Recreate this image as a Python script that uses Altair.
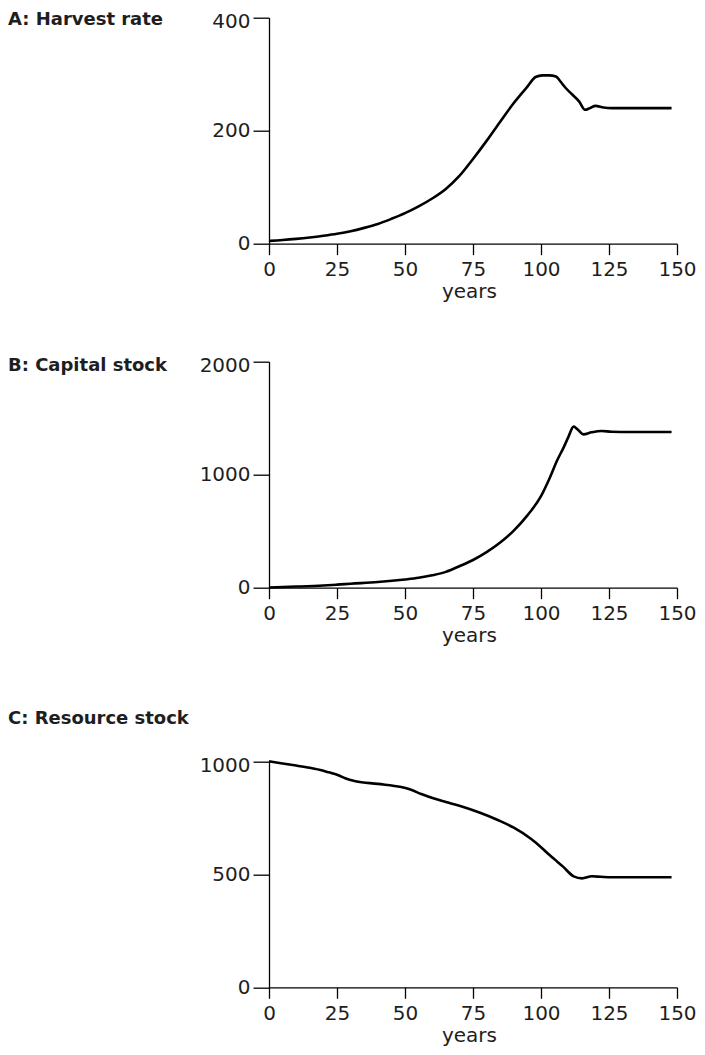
import altair as alt
import pandas as pd

# Panel A: Harvest rate
a_years = [0, 5, 10, 15, 20, 25, 30, 35, 40, 45, 50, 55, 60, 65, 70, 75, 80, 85, 90, 95, 98,
           100.5, 103, 105.5, 107, 109, 111.5, 114, 116.2, 118, 120, 123, 126, 130, 140, 148]
a_vals = [5, 6.5, 8.5, 11, 14, 17.5, 22, 28, 35, 44, 54, 66, 80, 97, 120, 150, 182, 216, 249, 278, 295,
          298, 298, 296, 288, 276, 264, 252, 237, 240, 244, 241, 240, 240, 240, 240]

# Panel B: Capital stock
b_years = [0, 10, 20, 25, 30, 40, 50, 55, 60, 65, 70, 75, 80, 85, 90, 95, 100, 103, 106, 108.3,
           110, 112, 113.5, 115.6, 118.6, 122.3, 126, 133, 148]
b_vals = [2, 10, 20, 27, 35, 50, 73, 88, 110, 140, 190, 245, 315, 400, 505, 640, 810, 960, 1130, 1240,
          1330, 1425, 1400, 1357, 1375, 1387, 1380, 1378, 1378]

# Panel C: Resource stock
c_years = [0, 5, 10, 15, 19.7, 22, 25.7, 28, 31.8, 40, 48.6, 52, 56, 60.7, 65, 70, 77.6, 84.3, 90,
           96.4, 100, 102.4, 105, 108, 112, 115.1, 118.7, 122, 126, 134, 148]
c_vals = [1000, 990, 981, 971, 959, 951, 937, 925, 912, 900, 886, 875, 855, 835, 820, 803, 772, 739, 706,
          656, 620, 593, 566, 535, 491, 482, 491, 489, 487, 487, 487]

x_ticks = [0, 25, 50, 75, 100, 125, 150]

LABEL_FONT = "DejaVu Sans"
TITLE_FONT = "DejaVu Sans"
INK = "#1e1e1e"
W = 408
H = 226


def panel(years, vals, title, ymax, yticks, height, rng=None, title_y=6.0, years_y=54):
    df = pd.DataFrame({"year": years, "value": vals})
    if rng is None:
        yscale = alt.Scale(domain=[0, ymax], nice=False)
    else:
        yscale = alt.Scale(domain=[0, ymax], nice=False, range=rng)
    top_label_offset = {"condition": {"test": f"datum.value == {ymax}", "value": 4}, "value": 0}
    line = alt.Chart(df).mark_line(
        color="black", strokeWidth=2.6, interpolate="monotone"
    ).encode(
        x=alt.X("year:Q", scale=alt.Scale(domain=[0, 150], nice=False),
                axis=alt.Axis(values=x_ticks, title="years", titleX=200, titleY=years_y,
                              titleBaseline="alphabetic", titleAlign="center",
                              tickSize=11, labelPadding=5, labelFlush=False,
                              labelOverlap=False, format="d")),
        y=alt.Y("value:Q", scale=yscale,
                axis=alt.Axis(values=yticks, title=None, tickSize=16, labelPadding=3,
                              labelOffset=top_label_offset,
                              labelFlush=False, labelOverlap=False, format="d")),
    )
    txt = alt.Chart(pd.DataFrame({"t": [title]})).mark_text(
        align="left", baseline="alphabetic", font=TITLE_FONT, fontSize=18,
        fontWeight="bold", color=INK
    ).encode(text="t:N", x=alt.value(-261), y=alt.value(title_y))
    return alt.layer(line, txt).properties(width=W, height=height)


gap_ab = 118
extra = 55.6
pa = panel(a_years, a_vals, "A: Harvest rate", 400, [0, 200, 400], H, title_y=7.7)
pb = panel(b_years, b_vals, "B: Capital stock", 2000, [0, 1000, 2000], H, title_y=9)
pc = panel(c_years, c_vals, "C: Resource stock", 1000, [0, 500, 1000], H + extra,
           rng=[H + extra, extra], title_y=18.3, years_y=54)

chart = alt.vconcat(pa, pb, pc, spacing=gap_ab, bounds="flush").properties(
    padding={"left": 0, "top": 2.7, "right": 0, "bottom": 0}
).configure_view(strokeWidth=0).configure_axis(
    grid=False,
    domainColor="black", domainWidth=1.3,
    tickColor="black", tickWidth=1.3,
    labelFont=LABEL_FONT, labelFontSize=20, labelColor=INK, labelFontWeight="normal",
    titleFont=LABEL_FONT, titleFontSize=20, titleColor=INK, titleFontWeight="normal",
)

chart.save("out.html", embed_options={"renderer": "svg", "actions": False})
